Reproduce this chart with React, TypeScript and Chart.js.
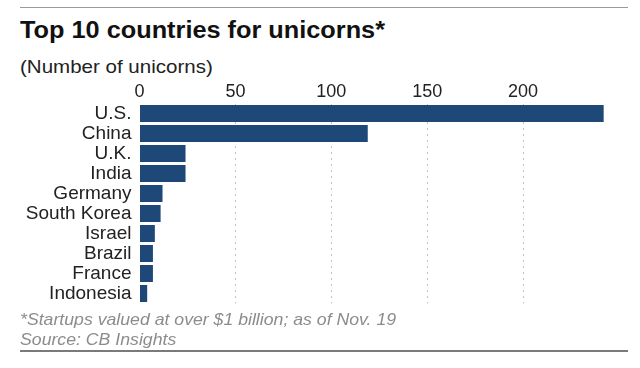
import React, { useEffect, useRef } from "react";
import { Chart, registerables } from "chart.js";

Chart.register(...registerables);

const countries = ["U.S.", "China", "U.K.", "India", "Germany", "South Korea", "Israel", "Brazil", "France", "Indonesia"];
const unicorns = [242, 119, 24, 24, 12, 11, 8, 7, 7, 4];
const tickStep = 50;
const axisMax = 244;
const titleText = "Top 10 countries for unicorns*";
const subtitleText = "(Number of unicorns)";
const noteText = "*Startups valued at over $1 billion; as of Nov. 19";
const sourceText = "Source: CB Insights";

const FONT = '"Liberation Sans", Arial, Helvetica, sans-serif';

export default function App() {
  const ref = useRef<HTMLCanvasElement | null>(null);

  useEffect(() => {
    if (!ref.current) return;
    const chart = new Chart(ref.current, {
      type: "bar",
      data: {
        labels: countries,
        datasets: [
          {
            data: unicorns,
            backgroundColor: "#1d4877",
            borderWidth: 0,
            barPercentage: 0.85,
            categoryPercentage: 1,
          },
        ],
      },
      options: {
        indexAxis: "y",
        responsive: false,
        animation: false,
        devicePixelRatio: 1,
        layout: { padding: { top: 78, right: 32.5, bottom: 64.5, left: 0 } },
        plugins: { legend: { display: false }, tooltip: { enabled: false }, title: { display: false } },
        scales: {
          x: {
            position: "top",
            min: 0,
            max: axisMax,
            ticks: {
              stepSize: tickStep,
              font: { family: FONT, size: 18 },
              color: "#222",
              padding: 1,
              autoSkip: false,
            },
            afterBuildTicks: (scale: any) => {
              scale.ticks = scale.ticks.filter((t: any) => t.value % tickStep === 0);
            },
            afterFit: (scale: any) => {
              scale.height = 25.5;
            },
            grid: {
              drawTicks: false,
              color: (ctx: any) => (ctx.tick && ctx.tick.value === 0 ? "rgba(0,0,0,0)" : "#c4c4c4"),
              lineWidth: 1,
            },
            border: { display: false, dash: [2, 4] },
          },
          y: {
            grid: { display: false, drawTicks: false },
            border: { display: false },
            ticks: {
              font: { family: FONT, size: 19 },
              color: "#222",
              padding: 8,
              autoSkip: false,
            },
            afterFit: (scale: any) => {
              scale.width = 139.5;
            },
          },
        },
      },
    } as any);
    return () => chart.destroy();
  }, []);

  const textBase: React.CSSProperties = {
    position: "absolute",
    left: 20,
    margin: 0,
    whiteSpace: "nowrap",
    fontFamily: FONT,
    lineHeight: 1,
    transformOrigin: "left top",
  };

  return (
    <div style={{ position: "absolute", left: 0, top: 0, width: 640, height: 368, background: "#fff", overflow: "hidden" }}>
      <div style={{ position: "absolute", left: 20, top: 6.5, width: 608, height: 1, background: "#9a9a9a" }} />
      <div style={{ ...textBase, top: 18.8, fontSize: 23, fontWeight: "bold", color: "#111", transform: "scaleX(1.1)" }}>
        {titleText}
      </div>
      <div style={{ ...textBase, top: 56.9, fontSize: 19, color: "#222", transform: "scaleX(1.08)" }}>
        {subtitleText}
      </div>
      <canvas ref={ref} width={640} height={368} style={{ position: "absolute", left: 0, top: 0, width: 640, height: 368 }} />
      <div style={{ ...textBase, top: 310.6, fontSize: 17, fontStyle: "italic", color: "#8c8c8c", transform: "scaleX(1.04)" }}>
        {noteText}
      </div>
      <div style={{ ...textBase, top: 331.3, fontSize: 17, fontStyle: "italic", color: "#8c8c8c", transform: "scaleX(1.04)" }}>
        {sourceText}
      </div>
      <div style={{ position: "absolute", left: 20, top: 350, width: 608, height: 1.5, background: "#7a7a7a" }} />
    </div>
  );
}
